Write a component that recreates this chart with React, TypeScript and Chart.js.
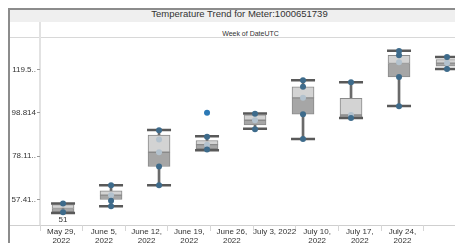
import { useEffect, useRef } from "react";
import { Chart, registerables } from "chart.js";

Chart.register(...registerables);

const FONT = '"Liberation Sans", Arial, sans-serif';

const titleText = "Temperature Trend for Meter:1000651739";
const headerText = "Week of DateUTC";

const categories = [
  "May 29, 2022",
  "June 5, 2022",
  "June 12, 2022",
  "June 19, 2022",
  "June 26, 2022",
  "July 3, 2022",
  "July 10, 2022",
  "July 17, 2022",
  "July 24, 2022",
];
const tickLabelLines = [
  ["May 29,", "2022"],
  ["June 5,", "2022"],
  ["June 12,", "2022"],
  ["June 19,", "2022"],
  ["June 26,", "2022"],
  ["July 3, 2022"],
  ["July 10,", "2022"],
  ["July 17,", "2022"],
  ["July 24,", "2022"],
];

const yTickValues = [57.41, 78.11, 98.814, 119.5];
const yTickLabels = ["57.41..", "78.11..", "98.814", "119.5.."];

const mins = [51.0, 54.2, 64.2, 81.0, 91.2, 86.3, 96.3, 102.1, 119.8];
const q1s = [51.5, 57.4, 73.2, 81.7, 93.1, 98.2, 96.6, 116.0, 121.1];
const medians = [53.1, 59.5, 80.0, 83.6, 95.3, 106.0, 97.8, 122.4, 122.6];
const q3s = [55.0, 61.5, 88.2, 85.6, 97.9, 111.3, 105.8, 126.3, 124.3];
const maxs = [55.5, 64.2, 90.6, 87.6, 98.5, 114.4, 113.5, 128.5, 125.5];

const dotCategory = [0, 0, 1, 1, 1, 2, 2, 2, 3, 3, 4, 4, 5, 5, 5, 5, 6, 6, 7, 7, 7, 7, 8, 8];
const dotValues = [
  55.5, 51.3, 64.2, 56.8, 54.2, 90.5, 73.2, 64.2, 87.4, 81.3, 98.4, 91.0, 114.4, 111.3,
  98.2, 86.3, 113.5, 96.3, 128.4, 126.3, 116.0, 102.0, 125.5, 119.8,
];

const faintCategory = [1, 2, 2, 3, 4, 5, 6, 7, 8];
const faintValues = [59.5, 86.1, 80.0, 83.6, 95.3, 106.0, 97.8, 123.0, 122.6];

const outlierCategory = [3];
const outlierValues = [98.9];

export default function App() {
  const ref = useRef<HTMLCanvasElement>(null);

  useEffect(() => {
    if (!ref.current) return;
    const idx = categories.map((_, i) => i);
    const minLabelPlugin = {
      id: "minLabel",
      afterDatasetsDraw(chart: any) {
        const { ctx, scales } = chart;
        const x = scales.x.getPixelForValue(0);
        const y = scales.y.getPixelForValue(mins[0]);
        ctx.save();
        ctx.font = `8px ${FONT}`;
        ctx.fillStyle = "#333";
        ctx.textAlign = "center";
        ctx.textBaseline = "top";
        ctx.fillText(String(Math.round(mins[0])), x, y + 3);
        ctx.restore();
      },
    };

    const chart = new Chart(ref.current, {
      type: "bar",
      data: {
        datasets: [
          {
            type: "scatter",
            data: outlierCategory.map((c, i) => ({ x: c, y: outlierValues[i] })),
            backgroundColor: "#2b79b6",
            borderColor: "#2b79b6",
            pointRadius: 3,
            borderWidth: 0,
          } as any,
          {
            type: "scatter",
            data: dotCategory.map((c, i) => ({ x: c, y: dotValues[i] })),
            backgroundColor: "#3e6b8b",
            borderColor: "#3e6b8b",
            pointRadius: 3,
            borderWidth: 0,
          } as any,
          {
            type: "scatter",
            data: faintCategory.map((c, i) => ({ x: c, y: faintValues[i] })),
            backgroundColor: "#b3c2ce",
            borderColor: "#b3c2ce",
            pointRadius: 3,
            borderWidth: 0,
          } as any,
          {
            type: "scatter",
            data: idx.flatMap((i) => [
              { x: i, y: maxs[i] },
              { x: i, y: mins[i] },
            ]),
            pointStyle: "line",
            pointRadius: 12,
            borderWidth: 2.5,
            borderColor: "#595959",
            backgroundColor: "#595959",
          } as any,
          {
            type: "bar",
            data: idx.map((i) => ({ x: i, y: [medians[i], q3s[i]] })),
            backgroundColor: "#d3d3d3",
            borderColor: "#8a8a8a",
            borderWidth: 1,
            borderSkipped: false,
            barThickness: 22,
            grouped: false,
          } as any,
          {
            type: "bar",
            data: idx.map((i) => ({ x: i, y: [q1s[i], medians[i]] })),
            backgroundColor: "#a6a6a6",
            borderColor: "#8a8a8a",
            borderWidth: 1,
            borderSkipped: false,
            barThickness: 22,
            grouped: false,
          } as any,
          {
            type: "bar",
            data: idx.map((i) => ({ x: i, y: [mins[i], maxs[i]] })),
            backgroundColor: "#6a6a6a",
            borderWidth: 0,
            barThickness: 2,
            grouped: false,
          } as any,
        ],
      },
      options: {
        animation: false,
        responsive: false,
        events: [],
        layout: { padding: { left: 0, right: 3, top: 0, bottom: 0 } },
        plugins: {
          legend: { display: false },
          tooltip: { enabled: false },
          title: { display: false },
        },
        scales: {
          x: {
            type: "linear",
            display: false,
            offset: false,
            min: -0.48,
            max: 8.51,
          } as any,
          x2: {
            type: "linear",
            axis: "x",
            position: "bottom",
            offset: false,
            min: -0.5,
            max: 9.62,
            afterBuildTicks: (s: any) => {
              s.ticks = tickLabelLines.map((_, i) => ({ value: i }));
            },
            afterFit: (s: any) => {
              s.height = 30;
            },
            grid: {
              drawOnChartArea: false,
              offset: true,
              tickLength: 6,
              color: "#d6d6d6",
            },
            border: { display: false },
            ticks: {
              autoSkip: false,
              maxRotation: 0,
              minRotation: 0,
              padding: -3,
              color: "#333",
              font: { size: 8, family: FONT, lineHeight: 1.05 },
              callback: (_v: any, i: number) => tickLabelLines[i],
            },
          } as any,
          y: {
            type: "linear",
            min: 45.23,
            max: 133.87,
            afterBuildTicks: (s: any) => {
              s.ticks = yTickValues.map((v) => ({ value: v }));
            },
            afterFit: (s: any) => {
              s.width = 32;
            },
            grid: {
              drawOnChartArea: false,
              tickLength: 3,
              color: "#999",
            },
            border: { display: false },
            ticks: {
              padding: 1,
              color: "#333",
              font: { size: 8, family: FONT },
              callback: (_v: any, i: number) => yTickLabels[i],
            },
          } as any,
        },
      },
      plugins: [minLabelPlugin],
    });
    return () => chart.destroy();
  }, []);

  return (
    <div
      style={{
        position: "absolute",
        left: 0,
        top: 0,
        width: 455,
        height: 243,
        overflow: "hidden",
        background: "#fff",
        fontFamily: FONT,
      }}
    >
      <div style={{ position: "absolute", left: 10, top: 10, width: 461, height: 12, background: "#efefef" }} />
      <div
        style={{
          position: "absolute",
          left: 10,
          top: 8,
          width: 459,
          textAlign: "center",
          fontSize: 9.5,
          lineHeight: "12px",
          color: "#333",
          whiteSpace: "nowrap",
        }}
      >
        {titleText}
      </div>
      <div
        style={{
          position: "absolute",
          left: 40,
          top: 29,
          width: 421,
          textAlign: "center",
          fontSize: 7,
          lineHeight: "9px",
          color: "#333",
          whiteSpace: "nowrap",
        }}
      >
        {headerText}
      </div>
      <div style={{ position: "absolute", left: 10, top: 37, width: 470, height: 1, background: "#d8d8d8" }} />
      <div style={{ position: "absolute", left: 39, top: 22, width: 2, height: 203, background: "#e2e2e2" }} />
      <div style={{ position: "absolute", left: 10, top: 225, width: 470, height: 1, background: "#cfcfcf" }} />
      <div style={{ position: "absolute", left: 8, top: 8, width: 2, height: 240, background: "#8c8c8c" }} />
      <div style={{ position: "absolute", left: 8, top: 8, width: 470, height: 2, background: "#8c8c8c" }} />
      <canvas
        ref={ref}
        width={478}
        height={230}
        style={{ position: "absolute", left: 8, top: 25, width: 478, height: 230, display: "block" }}
      />
    </div>
  );
}
